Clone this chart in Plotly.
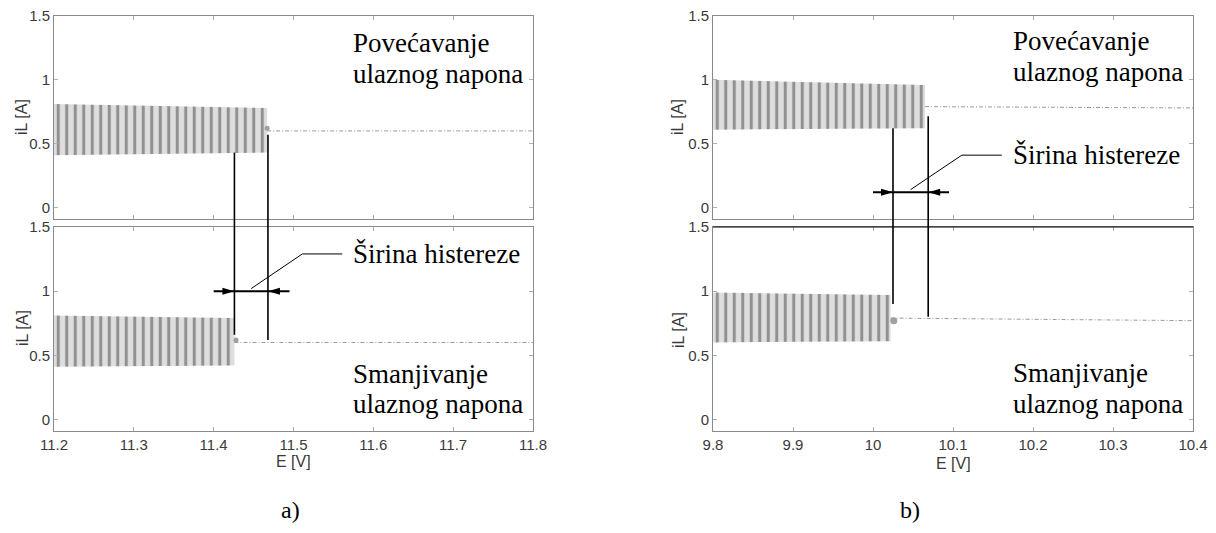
import plotly.graph_objects as go

W, H = 1216, 533

# ---------------- data ----------------
E_range_a = [11.2, 11.8]
E_range_b = [9.8, 10.4]
E_ticks_a = [11.2, 11.3, 11.4, 11.5, 11.6, 11.7, 11.8]
E_ticks_b = [9.8, 9.9, 10.0, 10.1, 10.2, 10.3, 10.4]
E_ticklabels_a = ["11.2", "11.3", "11.4", "11.5", "11.6", "11.7", "11.8"]
E_ticklabels_b = ["9.8", "9.9", "10", "10.1", "10.2", "10.3", "10.4"]
iL_range = [-0.09, 1.5]
iL_ticks = [0, 0.5, 1, 1.5]
iL_ticklabels = ["0", "0.5", "1", "1.5"]

# a) rising input voltage: ripple band, then a single steady level
a_up_band_E = [11.2, 11.467]
a_up_band_max = [0.81, 0.78]
a_up_band_min = [0.41, 0.43]
a_up_dc_E = [11.467, 11.8]
a_up_dc_iL = [0.60, 0.60]
# a) falling input voltage
a_dn_band_E = [11.2, 11.426]
a_dn_band_max = [0.81, 0.79]
a_dn_band_min = [0.41, 0.42]
a_dn_dc_E = [11.426, 11.8]
a_dn_dc_iL = [0.60, 0.60]
# a) switching voltages and where their guides start / end
a_switch_E = [11.426, 11.468]
a_switch_iL_up = [0.43, 0.57]
a_switch_iL_dn = [0.66, 0.62]
a_arrow_E = [11.40, 11.495]
a_arrow_iL = 1.0
# a) transient points at the jump
a_up_tr_E, a_up_tr_iL = [11.467], [0.62]
a_dn_tr_E, a_dn_tr_iL = [11.428], [0.62]

# b) rising input voltage
b_up_band_E = [9.8, 10.065]
b_up_band_max = [1.00, 0.96]
b_up_band_min = [0.61, 0.62]
b_up_dc_E = [10.065, 10.4]
b_up_dc_iL = [0.79, 0.78]
# b) falling input voltage
b_dn_band_E = [9.8, 10.022]
b_dn_band_max = [0.99, 0.97]
b_dn_band_min = [0.60, 0.61]
b_dn_dc_E = [10.022, 10.4]
b_dn_dc_iL = [0.79, 0.77]
# b) switching voltages
b_switch_E = [10.025, 10.069]
b_switch_iL_up = [0.62, 0.715]
b_switch_iL_dn = [0.90, 0.80]
b_arrow_E = [10.0, 10.095]
b_arrow_iL = 0.12
b_dn_tr_E, b_dn_tr_iL = [10.026], [0.77]

# ---------------- layout helpers ----------------
def px_x(p):
    return p / W

def px_y(p):
    return 1 - p / H

xd_left = [px_x(54), px_x(533)]
xd_right = [px_x(713), px_x(1193)]
yd_top = [px_y(219), px_y(16)]
yd_bot = [px_y(431), px_y(227)]

SERIF = "Liberation Serif, Times New Roman, serif"
SANS = "Liberation Sans, Arial, sans-serif"
AX_GRAY = "#8a8a8a"
TXT = "#3a3a3a"

fig = go.Figure()

BAND_PATTERN = dict(shape="|", size=8.5, solidity=0.36,
                    fgcolor="#444444", bgcolor="#dedede")


def add_band(E, hi, lo, xa, ya):
    fig.add_trace(go.Scatter(
        x=E + E[::-1] + [E[0]], y=hi + lo[::-1] + [hi[0]],
        fill="toself", mode="lines", line=dict(width=0),
        fillpattern=BAND_PATTERN, xaxis=xa, yaxis=ya,
        hoverinfo="skip", showlegend=False))


def add_dc(E, iL, xa, ya):
    fig.add_trace(go.Scatter(
        x=E, y=iL, mode="lines",
        line=dict(color="#9a9a9a", width=1, dash="4px,2px,1px,2px"),
        xaxis=xa, yaxis=ya, hoverinfo="skip", showlegend=False))


def add_transient(E, iL, xa, ya, size):
    fig.add_trace(go.Scatter(
        x=E, y=iL, mode="markers",
        marker=dict(color="#a0a0a0", size=size, symbol="circle"),
        xaxis=xa, yaxis=ya, hoverinfo="skip", showlegend=False))


# panel a) top: rising, bottom: falling
add_band(a_up_band_E, a_up_band_max, a_up_band_min, "x", "y")
add_dc(a_up_dc_E, a_up_dc_iL, "x", "y")
add_transient(a_up_tr_E, a_up_tr_iL, "x", "y", 5)
add_band(a_dn_band_E, a_dn_band_max, a_dn_band_min, "x2", "y2")
add_dc(a_dn_dc_E, a_dn_dc_iL, "x2", "y2")
add_transient(a_dn_tr_E, a_dn_tr_iL, "x2", "y2", 5)

# panel b)
add_band(b_up_band_E, b_up_band_max, b_up_band_min, "x3", "y3")
add_dc(b_up_dc_E, b_up_dc_iL, "x3", "y3")
add_band(b_dn_band_E, b_dn_band_max, b_dn_band_min, "x4", "y4")
add_dc(b_dn_dc_E, b_dn_dc_iL, "x4", "y4")
add_transient(b_dn_tr_E, b_dn_tr_iL, "x4", "y4", 7)

shapes = []
GUIDE = dict(color="black", width=1.6)


def switch_guides(Es, iL_up, iL_dn, xt, yt, xb, yb):
    for E, u, d in zip(Es, iL_up, iL_dn):
        shapes.append(dict(type="line", xref=xt, yref=yt, x0=E, x1=E,
                           y0=u, y1=iL_range[0], line=GUIDE))
        shapes.append(dict(type="line", xref=xt, yref="paper", x0=E, x1=E,
                           y0=yd_bot[1], y1=yd_top[0], line=GUIDE))
        shapes.append(dict(type="line", xref=xb, yref=yb, x0=E, x1=E,
                           y0=iL_range[1], y1=d, line=GUIDE))


def width_arrow(Es, arrow_E, iL, xr, yr):
    shapes.append(dict(type="line", xref=xr, yref=yr,
                       x0=arrow_E[0], x1=arrow_E[1], y0=iL, y1=iL,
                       line=dict(color="black", width=2)))
    for tip, path in ((Es[0], "M0,0L-12,3.5L-12,-3.5Z"),
                      (Es[1], "M0,0L12,3.5L12,-3.5Z")):
        shapes.append(dict(type="path", xref=xr, yref=yr,
                           xsizemode="pixel", ysizemode="pixel",
                           xanchor=tip, yanchor=iL, path=path,
                           fillcolor="black", line=dict(width=0)))
    # callout leader from the middle of the hysteresis width
    x0 = (Es[0] + Es[1]) / 2
    y0 = iL + 0.02
    x1, y1 = x0 + 0.064, iL + 0.29
    x2 = x1 + 0.05
    shapes.append(dict(type="path", xref=xr, yref=yr,
                       path=f"M{x0},{y0}L{x1},{y1}L{x2},{y1}",
                       line=dict(color="black", width=1)))
    return x2 + 0.011, y1


switch_guides(a_switch_E, a_switch_iL_up, a_switch_iL_dn, "x", "y", "x2", "y2")
switch_guides(b_switch_E, b_switch_iL_up, b_switch_iL_dn, "x3", "y3", "x4", "y4")
ta = width_arrow(a_switch_E, a_arrow_E, a_arrow_iL, "x2", "y2")
tb = width_arrow(b_switch_E, b_arrow_E, b_arrow_iL, "x3", "y3")

# dark top border of the lower b) panel
shapes.append(dict(type="line", xref="x4 domain", yref="y4 domain",
                   x0=0, x1=1, y0=1, y1=1, line=dict(color="black", width=1)))

annotations = []
LABEL_SIZE = 27


def text_px(txt, x, y, size=LABEL_SIZE, family=SERIF, xanchor="left", angle=0, color="black"):
    annotations.append(dict(text=txt, x=px_x(x), y=px_y(y), xref="paper", yref="paper",
                            xanchor=xanchor, yanchor="middle", showarrow=False,
                            textangle=angle, font=dict(family=family, size=size, color=color)))


text_px("Povećavanje", 351, 43)
text_px("ulaznog napona", 351, 74)
text_px("Smanjivanje", 351, 374)
text_px("ulaznog napona", 351, 404)
text_px("Povećavanje", 1011, 41)
text_px("ulaznog napona", 1011, 72)
text_px("Smanjivanje", 1011, 373)
text_px("ulaznog napona", 1011, 404)

for (tx, ty), xr, yr in ((ta, "x2", "y2"), (tb, "x3", "y3")):
    annotations.append(dict(text="Širina histereze", x=tx, y=ty, xref=xr, yref=yr,
                            xanchor="left", yanchor="middle", showarrow=False,
                            font=dict(family=SERIF, size=LABEL_SIZE, color="black")))

for y in (117, 328):
    text_px("iL [A]", 22, y, size=16, family=SANS, xanchor="center", angle=-90, color=TXT)
for y in (117, 330):
    text_px("iL [A]", 678, y, size=16, family=SANS, xanchor="center", angle=-90, color=TXT)
text_px("E [V]", 293, 461, size=16, family=SANS, xanchor="center", color=TXT)
text_px("E [V]", 953, 463, size=16, family=SANS, xanchor="center", color=TXT)
text_px("a)", 290, 510, size=24, xanchor="center")
text_px("b)", 910, 510, size=24, xanchor="center")

AX = dict(showline=True, linecolor=AX_GRAY, linewidth=1, mirror="ticks",
          ticks="inside", ticklen=4, tickcolor="#b0b0b0", tickwidth=1,
          showgrid=False, zeroline=False, automargin=False,
          tickfont=dict(family=SANS, size=15, color=TXT))


def xax(dom, anchor, rng, tv, tt, labels):
    return dict(AX, domain=dom, anchor=anchor, range=rng, tickvals=tv,
                ticktext=tt, showticklabels=labels)


def yax(dom, anchor):
    return dict(AX, domain=dom, anchor=anchor, range=iL_range,
                tickvals=iL_ticks, ticktext=iL_ticklabels)


fig.update_layout(
    width=W, height=H, margin=dict(l=0, r=0, t=0, b=0),
    paper_bgcolor="white", plot_bgcolor="white", showlegend=False,
    xaxis=xax(xd_left, "y", E_range_a, E_ticks_a, E_ticklabels_a, False),
    yaxis=yax(yd_top, "x"),
    xaxis2=xax(xd_left, "y2", E_range_a, E_ticks_a, E_ticklabels_a, True),
    yaxis2=yax(yd_bot, "x2"),
    xaxis3=xax(xd_right, "y3", E_range_b, E_ticks_b, E_ticklabels_b, False),
    yaxis3=yax(yd_top, "x3"),
    xaxis4=xax(xd_right, "y4", E_range_b, E_ticks_b, E_ticklabels_b, True),
    yaxis4=yax(yd_bot, "x4"),
    shapes=shapes, annotations=annotations,
)

fig.write_html("out.html")
